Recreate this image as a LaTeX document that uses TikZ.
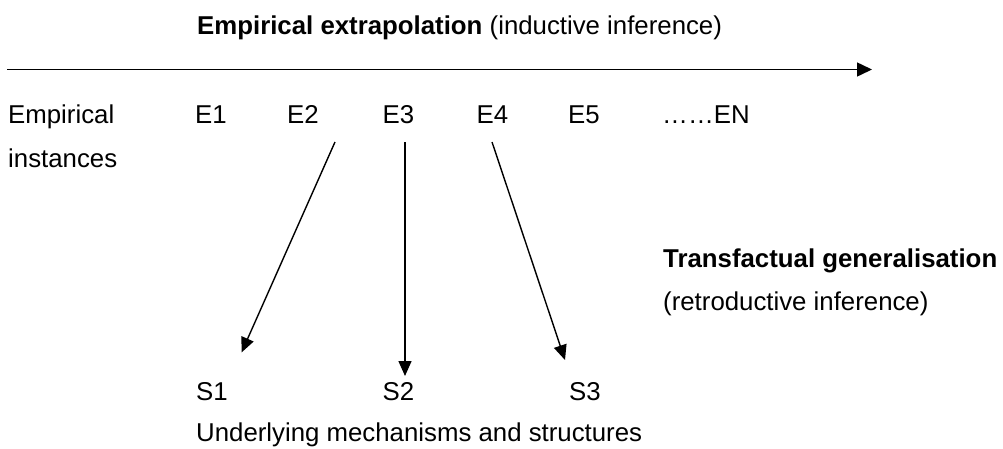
\documentclass[tikz,border=0pt]{standalone}
\usepackage{fontspec}
\setmainfont{Liberation Sans}
\usetikzlibrary{arrows.meta}
\begin{document}
\begin{tikzpicture}[x=1pt,y=-1pt,
  lbl/.style={inner sep=0pt,anchor=base west,font=\fontsize{25.8pt}{31pt}\selectfont},
  conn/.style={line width=1.4pt,-{Triangle[length=15pt,width=13pt]}},
  timeline/.style={line width=1.5pt,-{Triangle[length=15pt,width=14pt]}}]
\useasboundingbox (0,0) rectangle (1003,448);

% heading and time axis
\node[lbl] (title) at (197,34.3) {\textbf{Empirical extrapolation} (inductive inference)};
\coordinate (axisL) at (7,69.5);
\coordinate (axisR) at (872,69.5);
\draw[timeline] (axisL) -- (axisR);

% empirical instances
\node[lbl] (emp) at (8,123) {Empirical};
\node[lbl] (inst) at (8,167) {instances};
\node[lbl] (E1) at (195,123) {E1};
\node[lbl] (E2) at (287,123) {E2};
\node[lbl] (E3) at (382.5,123) {E3};
\node[lbl] (E4) at (476.5,123) {E4};
\node[lbl] (E5) at (568,123) {E5};
\node[lbl] (EN) at (662,123) {……EN};

% underlying structures
\node[lbl] (S1) at (196,400.5) {S1};
\node[lbl] (S2) at (382.5,400.5) {S2};
\node[lbl] (S3) at (569,400.5) {S3};
\node[lbl] (mech) at (196,441.5) {Underlying mechanisms and structures};

% retroduction label
\node[lbl] (trans) at (663,267.3) {\textbf{Transfactual generalisation}};
\node[lbl] (retro) at (663,310) {(retroductive inference)};

% retroductive arrows
\coordinate (e2a) at (335,142);
\coordinate (e3a) at (405,142);
\coordinate (e4a) at (492,142);
\coordinate (s1a) at (241.5,352.5);
\coordinate (s2a) at (405,376);
\coordinate (s3a) at (565,360);
\draw[conn] (e2a) -- (s1a);
\draw[conn] (e3a) -- (s2a);
\draw[conn] (e4a) -- (s3a);
\end{tikzpicture}
\end{document}
